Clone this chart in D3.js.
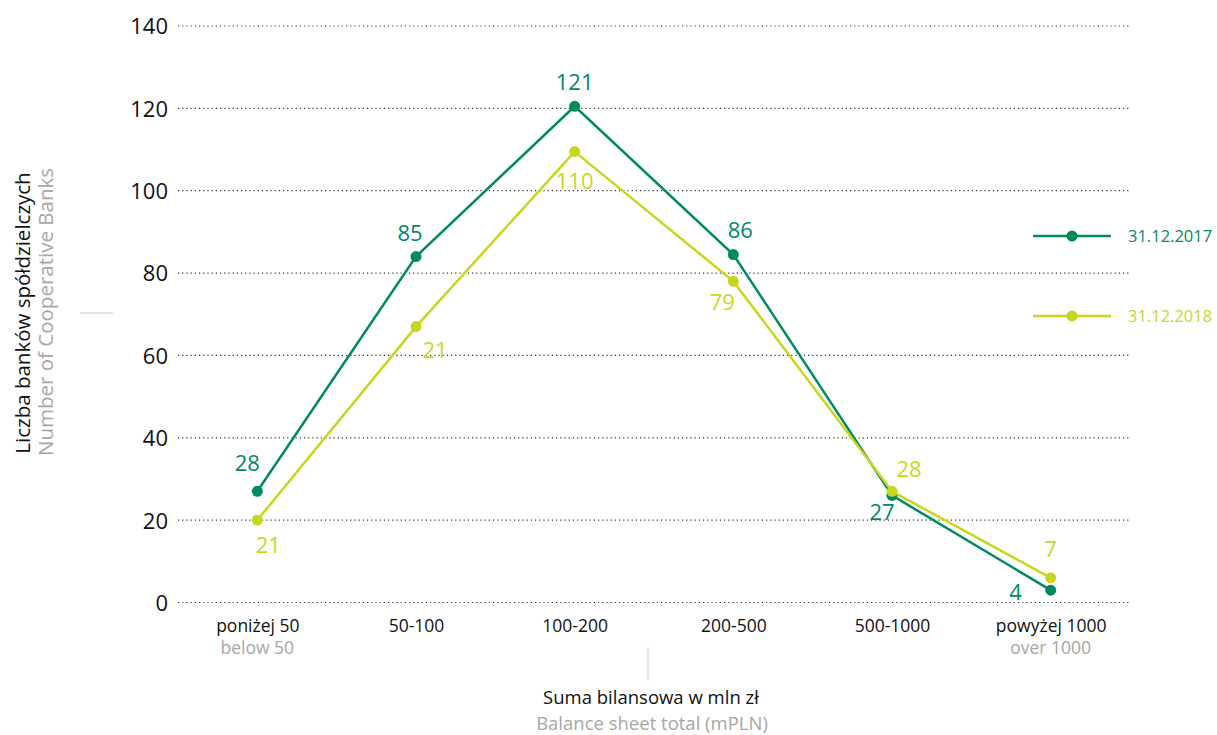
<!DOCTYPE html>
<html><head><meta charset="utf-8">
<script src="https://cdn.jsdelivr.net/npm/d3@7"></script>
<style>
body{margin:0;background:#fff;}
svg{display:block;font-family:"Open Sans",sans-serif;}
</style></head>
<body>
<svg id="c" width="1217" height="735"></svg>
<script>
const categories = ["poniżej 50","50-100","100-200","200-500","500-1000","powyżej 1000"];
const categoriesEn = ["below 50","","","","","over 1000"];
const series2017 = [27, 84, 120.5, 84.5, 26, 3];
const series2018 = [20, 67, 109.5, 78, 27, 6];
const labels2017 = ["28","85","121","86","27","4"];
const labels2018 = ["21","21","110","79","28","7"];
const seriesNames = ["31.12.2017","31.12.2018"];
const yTicks = [0,20,40,60,80,100,120,140];

const colors = ["#008a63","#c8d61e"];
const offs2017 = [[-10,-28],[-6,-24],[0,-24],[7,-24],[-10,17],[-35,2]];
const offs2018 = [[11,25],[19,23],[0,29],[-11,21],[17,-22],[0,-29]];

const svg = d3.select("#c");
const x = d3.scalePoint().domain(categories).range([178,1130]).padding(0.5);
const y = d3.scaleLinear().domain([0,140]).range([602.5,26]);

// grid
svg.append("g").selectAll("line").data(yTicks).join("line")
  .attr("x1",178).attr("x2",1130)
  .attr("y1",d=>y(d)).attr("y2",d=>y(d))
  .attr("stroke","#333").attr("stroke-width",1.2).attr("stroke-dasharray","1.2,3");

// y axis
const ya = svg.append("g").attr("transform","translate(168,0)")
  .call(d3.axisLeft(y).tickValues(yTicks).tickSize(0).tickPadding(0));
ya.select(".domain").remove();
ya.selectAll("text").attr("font-size",22).attr("fill","#111").attr("font-family","Open Sans, sans-serif").attr("dy","0.36em");

// x axis
const xa = svg.append("g").attr("transform","translate(0,632)")
  .call(d3.axisBottom(x).tickSize(0).tickPadding(0));
xa.select(".domain").remove();
xa.selectAll("text").attr("font-size",17.5).attr("fill","#111").attr("font-family","Open Sans, sans-serif").attr("dy","0").attr("y",0);
svg.append("g").selectAll("text").data(categories).join("text")
  .attr("x",d=>x(d)).attr("y",654).attr("text-anchor","middle")
  .attr("font-size",17.5).attr("fill","#a6a6a6")
  .text((d,i)=>categoriesEn[i]);

// axis titles
svg.append("line").attr("x1",648).attr("x2",648).attr("y1",647).attr("y2",681).attr("stroke","#c8c8c8");
svg.append("text").attr("x",651).attr("y",704).attr("text-anchor","middle").attr("font-size",18.5).attr("fill","#111").text("Suma bilansowa w mln zł");
svg.append("text").attr("x",652).attr("y",730).attr("text-anchor","middle").attr("font-size",18.5).attr("fill","#a6a6a6").text("Balance sheet total (mPLN)");
svg.append("line").attr("x1",80).attr("x2",113).attr("y1",313).attr("y2",313).attr("stroke","#c8c8c8");
svg.append("text").attr("transform","translate(30,313) rotate(-90)").attr("text-anchor","middle").attr("font-size",20.5).attr("fill","#111").text("Liczba banków spółdzielczych");
svg.append("text").attr("transform","translate(53,312) rotate(-90)").attr("text-anchor","middle").attr("font-size",20.5).attr("fill","#a6a6a6").text("Number of Cooperative Banks");

// lines
const data = [series2017, series2018];
const labs = [labels2017, labels2018];
const offs = [offs2017, offs2018];
const line = d3.line().x((d,i)=>x(categories[i])).y(d=>y(d));
data.forEach((s,k)=>{
  const g = svg.append("g");
  g.append("path").datum(s).attr("d",line).attr("fill","none").attr("stroke",colors[k]).attr("stroke-width",2.5);
  g.selectAll("circle").data(s).join("circle")
    .attr("cx",(d,i)=>x(categories[i])).attr("cy",d=>y(d)).attr("r",5.5).attr("fill",colors[k]);
  g.selectAll("text").data(s).join("text")
    .attr("x",(d,i)=>x(categories[i])+offs[k][i][0])
    .attr("y",(d,i)=>y(d)+offs[k][i][1])
    .attr("dy","0.36em").attr("text-anchor","middle")
    .attr("font-size",22).attr("fill",colors[k])
    .text((d,i)=>labs[k][i]);
});

// legend
const lg = svg.append("g");
seriesNames.forEach((n,k)=>{
  const ly = 236 + k*80;
  lg.append("line").attr("x1",1033).attr("x2",1111).attr("y1",ly).attr("y2",ly).attr("stroke",colors[k]).attr("stroke-width",2.5);
  lg.append("circle").attr("cx",1072).attr("cy",ly).attr("r",5.5).attr("fill",colors[k]);
  lg.append("text").attr("x",1128).attr("y",ly).attr("dy","0.36em").attr("font-size",16.5).attr("fill",colors[k]).text(n);
});
</script>
</body></html>
